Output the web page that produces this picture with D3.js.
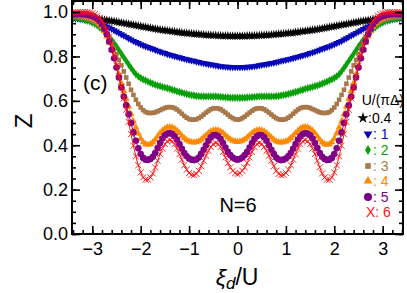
<!DOCTYPE html>
<html>
<head>
<meta charset="utf-8">
<script src="https://cdn.jsdelivr.net/npm/d3@7"></script>
<style>
  body { margin: 0; background: #fff; }
  text { font-family: "Liberation Sans", Arial, sans-serif; }
</style>
</head>
<body>
<svg id="chart"></svg>
<script>
// xi_d/U from 0 to 3.5; the curves are symmetric, so the negative side is mirrored
const xiHalf = [
  0.00, 0.05, 0.10, 0.15, 0.20, 0.25, 0.30, 0.35, 0.40, 0.45,
  0.50, 0.55, 0.60, 0.65, 0.70, 0.75, 0.80, 0.85, 0.90, 0.95,
  1.00, 1.05, 1.10, 1.15, 1.20, 1.25, 1.30, 1.35, 1.40, 1.45,
  1.50, 1.55, 1.60, 1.65, 1.70, 1.75, 1.80, 1.85, 1.90, 1.95,
  2.00, 2.05, 2.10, 2.15, 2.20, 2.25, 2.30, 2.35, 2.40, 2.45,
  2.50, 2.55, 2.60, 2.65, 2.70, 2.75, 2.80, 2.85, 2.90, 2.95,
  3.00, 3.05, 3.10, 3.15, 3.20, 3.25, 3.30, 3.35, 3.40, 3.45,
  3.50];

const zU04 = [
  0.892, 0.892, 0.892, 0.892, 0.893, 0.893, 0.893, 0.894, 0.894, 0.895,
  0.895, 0.896, 0.896, 0.897, 0.898, 0.899, 0.900, 0.901, 0.902, 0.903,
  0.904, 0.905, 0.906, 0.907, 0.909, 0.910, 0.912, 0.913, 0.915, 0.916,
  0.918, 0.919, 0.921, 0.922, 0.924, 0.926, 0.928, 0.930, 0.932, 0.934,
  0.936, 0.938, 0.940, 0.942, 0.944, 0.946, 0.948, 0.950, 0.952, 0.954,
  0.956, 0.958, 0.960, 0.961, 0.963, 0.964, 0.966, 0.967, 0.969, 0.970,
  0.971, 0.972, 0.973, 0.974, 0.975, 0.975, 0.976, 0.976, 0.977, 0.977,
  0.978];
const zU1 = [
  0.752, 0.752, 0.752, 0.752, 0.753, 0.754, 0.755, 0.756, 0.758, 0.760,
  0.762, 0.764, 0.766, 0.768, 0.770, 0.772, 0.775, 0.777, 0.780, 0.782,
  0.785, 0.787, 0.790, 0.793, 0.796, 0.799, 0.802, 0.805, 0.808, 0.811,
  0.815, 0.818, 0.822, 0.826, 0.830, 0.834, 0.838, 0.842, 0.846, 0.850,
  0.855, 0.860, 0.865, 0.870, 0.876, 0.882, 0.888, 0.894, 0.900, 0.906,
  0.912, 0.918, 0.924, 0.930, 0.935, 0.940, 0.945, 0.949, 0.952, 0.955,
  0.958, 0.961, 0.963, 0.965, 0.967, 0.969, 0.970, 0.971, 0.972, 0.973,
  0.973];
const zU2 = [
  0.614, 0.614, 0.614, 0.614, 0.615, 0.616, 0.617, 0.618, 0.619, 0.620,
  0.620, 0.620, 0.620, 0.620, 0.620, 0.620, 0.621, 0.622, 0.624, 0.626,
  0.628, 0.631, 0.634, 0.637, 0.640, 0.643, 0.647, 0.650, 0.654, 0.657,
  0.660, 0.663, 0.666, 0.669, 0.673, 0.677, 0.682, 0.687, 0.692, 0.697,
  0.703, 0.710, 0.720, 0.733, 0.748, 0.764, 0.780, 0.796, 0.812, 0.828,
  0.845, 0.860, 0.875, 0.888, 0.900, 0.911, 0.922, 0.931, 0.940, 0.947,
  0.953, 0.958, 0.962, 0.965, 0.968, 0.970, 0.972, 0.974, 0.975, 0.976,
  0.976];
const zU3 = [
  0.515, 0.517, 0.522, 0.529, 0.538, 0.547, 0.555, 0.562, 0.566, 0.567,
  0.566, 0.562, 0.555, 0.547, 0.538, 0.529, 0.522, 0.517, 0.515, 0.515,
  0.518, 0.524, 0.532, 0.542, 0.552, 0.561, 0.567, 0.571, 0.572, 0.571,
  0.568, 0.563, 0.558, 0.553, 0.548, 0.546, 0.545, 0.546, 0.550, 0.558,
  0.570, 0.586, 0.605, 0.627, 0.650, 0.677, 0.705, 0.733, 0.760, 0.785,
  0.810, 0.836, 0.860, 0.881, 0.900, 0.916, 0.930, 0.941, 0.950, 0.957,
  0.963, 0.967, 0.970, 0.973, 0.975, 0.977, 0.978, 0.979, 0.980, 0.980,
  0.980];
const zU4 = [
  0.415, 0.417, 0.420, 0.427, 0.435, 0.445, 0.455, 0.462, 0.467, 0.468,
  0.467, 0.462, 0.455, 0.445, 0.435, 0.425, 0.418, 0.414, 0.413, 0.414,
  0.417, 0.423, 0.432, 0.443, 0.455, 0.466, 0.475, 0.480, 0.482, 0.480,
  0.475, 0.466, 0.455, 0.440, 0.425, 0.413, 0.405, 0.402, 0.405, 0.414,
  0.430, 0.453, 0.480, 0.508, 0.540, 0.575, 0.610, 0.645, 0.680, 0.720,
  0.760, 0.796, 0.830, 0.862, 0.890, 0.915, 0.935, 0.949, 0.960, 0.968,
  0.975, 0.979, 0.982, 0.984, 0.985, 0.986, 0.987, 0.987, 0.988, 0.988,
  0.988];
const zU5 = [
  0.335, 0.338, 0.345, 0.356, 0.370, 0.390, 0.410, 0.428, 0.440, 0.446,
  0.445, 0.436, 0.420, 0.400, 0.380, 0.361, 0.345, 0.336, 0.333, 0.335,
  0.340, 0.350, 0.365, 0.384, 0.405, 0.425, 0.440, 0.451, 0.455, 0.452,
  0.445, 0.430, 0.410, 0.387, 0.365, 0.348, 0.338, 0.334, 0.335, 0.343,
  0.360, 0.386, 0.420, 0.458, 0.500, 0.540, 0.580, 0.620, 0.660, 0.705,
  0.750, 0.792, 0.830, 0.868, 0.900, 0.925, 0.945, 0.960, 0.970, 0.977,
  0.982, 0.985, 0.988, 0.989, 0.990, 0.990, 0.990, 0.990, 0.990, 0.990,
  0.990];
const zU6 = [
  0.270, 0.274, 0.285, 0.300, 0.320, 0.345, 0.370, 0.392, 0.405, 0.410,
  0.405, 0.393, 0.375, 0.353, 0.330, 0.306, 0.285, 0.271, 0.265, 0.267,
  0.275, 0.290, 0.310, 0.335, 0.360, 0.385, 0.405, 0.418, 0.423, 0.418,
  0.405, 0.385, 0.360, 0.330, 0.300, 0.273, 0.255, 0.245, 0.245, 0.255,
  0.278, 0.310, 0.350, 0.398, 0.450, 0.505, 0.560, 0.612, 0.662, 0.712,
  0.760, 0.806, 0.850, 0.888, 0.920, 0.943, 0.960, 0.974, 0.984, 0.991,
  0.995, 0.998, 1.000, 1.000, 1.000, 1.000, 1.000, 0.999, 0.998, 0.997,
  0.996];

const seriesNames = ['0.4', '1', '2', '3', '4', '5', '6'];
const seriesValues = [zU04, zU1, zU2, zU3, zU4, zU5, zU6];
const seriesColors = ['#000000', '#0808b8', '#08a008', '#a8784a', '#ff8a00', '#800088', '#ff1010'];

const xTicks = [-3, -2, -1, 0, 1, 2, 3];
const yTicks = [0.0, 0.2, 0.4, 0.6, 0.8, 1.0];

const W = 407, H = 293;
const margin = {top: 1, right: 4, bottom: 59, left: 72};
const width = W - margin.left - margin.right;
const height = H - margin.top - margin.bottom;

const svg = d3.select('#chart').attr('width', W).attr('height', H);
const chart = svg.append('g').attr('transform', `translate(${margin.left},${margin.top})`);

const xScale = d3.scaleLinear().domain([-3.42, 3.42]).range([0, width]);
const yScale = d3.scaleLinear().domain([0, 1.05]).range([height, 0]);

chart.append('clipPath').attr('id', 'clip')
  .append('rect').attr('width', width).attr('height', height);

// full series: mirror the half curve onto negative xi
const series = seriesValues.map((vals, i) => {
  const pts = [];
  for (let k = xiHalf.length - 1; k > 0; k--) pts.push({x: -xiHalf[k], y: vals[k]});
  for (let k = 0; k < xiHalf.length; k++) pts.push({x: xiHalf[k], y: vals[k]});
  return {name: seriesNames[i], color: seriesColors[i], pts};
});

const symbols = [
  {type: d3.symbolStar, size: 26, rot: 0, fill: true},
  {type: d3.symbolTriangle, size: 22, rot: 180, fill: true},
  {type: d3.symbolDiamond, size: 20, rot: 0, fill: true},
  {type: d3.symbolSquare, size: 21, rot: 0, fill: true},
  {type: d3.symbolTriangle, size: 22, rot: 0, fill: true},
  {type: d3.symbolCircle, size: 34, rot: 0, fill: true},
  {type: d3.symbolTimes, size: 26, rot: 0, fill: false}
];

const line = d3.line().x(d => xScale(d.x)).y(d => yScale(d.y)).curve(d3.curveMonotoneX);

const plot = chart.append('g').attr('clip-path', 'url(#clip)');

series.forEach((s, i) => {
  const g = plot.append('g');
  g.append('path').datum(s.pts)
    .attr('d', line).attr('fill', 'none')
    .attr('stroke', s.color).attr('stroke-width', 1);
  const sym = symbols[i];
  g.selectAll('.pt').data(s.pts).join('path')
    .attr('class', 'pt')
    .attr('transform', d => `translate(${xScale(d.x)},${yScale(d.y)}) rotate(${sym.rot})`)
    .attr('d', d3.symbol(sym.type, sym.size))
    .attr('fill', sym.fill ? s.color : 'none')
    .attr('stroke', sym.fill ? 'none' : s.color)
    .attr('stroke-width', 0.9);
});

// axes: inward ticks on all four sides
const xMinor = d3.range(-3.4, 3.41, 0.2).map(v => +v.toFixed(2));
const yMinor = d3.range(0, 1.051, 0.05).map(v => +v.toFixed(2));

function ticksG(sel) {
  sel.selectAll('line').attr('stroke', '#000').attr('stroke-width', 1.6);
  sel.select('.domain').remove();
}

chart.append('g').attr('transform', `translate(0,${height})`)
  .call(d3.axisBottom(xScale).tickValues(xMinor).tickSize(-4).tickFormat(''))
  .call(ticksG);
chart.append('g').attr('transform', `translate(0,${height})`)
  .call(d3.axisBottom(xScale).tickValues(xTicks).tickSize(-8).tickPadding(8)
    .tickFormat(d => d < 0 ? '\u2212' + Math.abs(d) : d))
  .call(ticksG)
  .call(g => g.selectAll('text').attr('font-size', 18).attr('fill', '#000'));
chart.append('g')
  .call(d3.axisTop(xScale).tickValues(xMinor).tickSize(-4).tickFormat(''))
  .call(ticksG);
chart.append('g')
  .call(d3.axisTop(xScale).tickValues(xTicks).tickSize(-8).tickFormat(''))
  .call(ticksG);

chart.append('g')
  .call(d3.axisLeft(yScale).tickValues(yMinor).tickSize(-4).tickFormat(''))
  .call(ticksG);
chart.append('g')
  .call(d3.axisLeft(yScale).tickValues(yTicks).tickSize(-8).tickPadding(4).tickFormat(d3.format('.1f')))
  .call(ticksG)
  .call(g => g.selectAll('text').attr('font-size', 18).attr('fill', '#000'));
chart.append('g').attr('transform', `translate(${width},0)`)
  .call(d3.axisRight(yScale).tickValues(yMinor).tickSize(-4).tickFormat(''))
  .call(ticksG);
chart.append('g').attr('transform', `translate(${width},0)`)
  .call(d3.axisRight(yScale).tickValues(yTicks).tickSize(-8).tickFormat(''))
  .call(ticksG);

chart.append('rect').attr('width', width).attr('height', height)
  .attr('fill', 'none').attr('stroke', '#000').attr('stroke-width', 2);

// axis titles
svg.append('text')
  .attr('transform', `translate(32,121) rotate(-90)`)
  .attr('text-anchor', 'middle').attr('font-size', 24).text('Z');

const xt = svg.append('text').attr('x', 237).attr('y', 285)
  .attr('text-anchor', 'middle').attr('font-size', 23);
xt.append('tspan').attr('font-style', 'italic').text('\u03BE');
xt.append('tspan').attr('font-style', 'italic').attr('font-size', 17).attr('dy', 4).text('d');
xt.append('tspan').attr('dy', -4).text('/U');

// annotations
svg.append('text').attr('x', 83).attr('y', 90).attr('font-size', 21).text('(c)');
svg.append('text').attr('x', 238).attr('y', 212).attr('text-anchor', 'middle')
  .attr('font-size', 20).text('N=6');

// legend
const legend = svg.append('g');
legend.append('text').attr('x', 404).attr('y', 105).attr('text-anchor', 'end')
  .attr('font-size', 14).text('U/(\u03C0\u0394)');

const legendY = [118, 134, 150, 166, 181, 197, 212];
series.forEach((s, i) => {
  const y = legendY[i];
  const sym = symbols[i];
  if (i === 6) {
    legend.append('text').attr('x', 366).attr('y', y + 5).attr('font-size', 14)
      .attr('fill', s.color).text('X: ' + s.name);
    return;
  }
  const mx = i === 0 ? 363 : 368;
  legend.append('path')
    .attr('transform', `translate(${mx},${y}) rotate(${sym.rot})`)
    .attr('d', d3.symbol(sym.type, sym.size * 1.5))
    .attr('fill', s.color);
  legend.append('text').attr('x', mx + 5).attr('y', y + 5).attr('font-size', 14)
    .attr('fill', s.color).text(i === 0 ? ':' + s.name : ': ' + s.name);
});
</script>
</body>
</html>
